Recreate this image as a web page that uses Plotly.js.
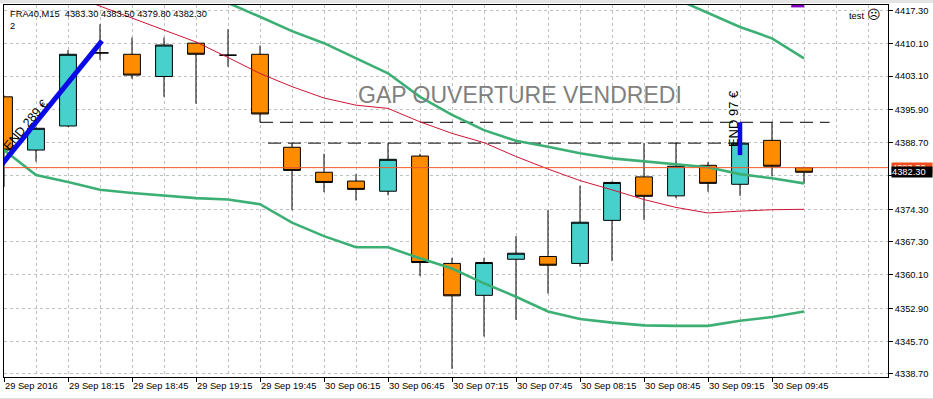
<!DOCTYPE html>
<html>
<head>
<meta charset="utf-8">
<script src="https://cdn.plot.ly/plotly-3.0.1.min.js"></script>
<style>html,body{margin:0;padding:0;background:#fff;}#chart{width:933px;height:399px;}</style>
</head>
<body>
<div id="chart"></div>
<script>
// ---- data ----
const symbol = "FRA40,M15";
const times = ["29 Sep 17:45","29 Sep 18:00","29 Sep 18:15","29 Sep 18:30","29 Sep 18:45","29 Sep 19:00","29 Sep 19:15","29 Sep 19:30","29 Sep 19:45",
  "30 Sep 06:00","30 Sep 06:15","30 Sep 06:30","30 Sep 06:45","30 Sep 07:00","30 Sep 07:15","30 Sep 07:30","30 Sep 07:45","30 Sep 08:00",
  "30 Sep 08:15","30 Sep 08:30","30 Sep 08:45","30 Sep 09:00","30 Sep 09:15","30 Sep 09:30","30 Sep 09:45","30 Sep 10:00"];
const open  = [4398.6,4387.1,4392.3,4408.1,4407.8,4403.0,4410.2,4407.6,4407.8,4387.7,4382.3,4380.4,4378.2,4385.8,4362.6,4355.7,4363.5,4364.1,4362.6,4371.9,4381.3,4377.2,4383.8,4379.7,4389.2,4383.3];
const high  = [4398.9,4392.0,4408.7,4414.3,4411.4,4411.4,4410.2,4413.2,4409.7,4388.6,4386.3,4381.9,4388.6,4386.3,4363.8,4363.8,4368.5,4374.1,4379.4,4380.3,4388.6,4388.7,4384.5,4389.0,4393.1,4383.5];
const low   = [4379.1,4384.6,4392.1,4406.6,4402.5,4398.6,4397.1,4405.1,4393.1,4374.1,4378.0,4376.2,4377.3,4359.9,4339.8,4346.8,4350.4,4356.1,4361.9,4363.1,4372.0,4376.7,4378.1,4377.2,4381.4,4379.8];
const close = [4387.1,4391.8,4407.8,4408.1,4403.3,4409.8,4407.8,4407.6,4394.9,4382.7,4380.1,4378.6,4385.1,4362.8,4355.6,4362.8,4364.8,4362.2,4371.5,4380.1,4377.1,4383.6,4379.9,4388.6,4383.6,4382.3];

const bandUpper  = [null,null,null,null,null,null,null,null,null,null,null,null,null,null,null,null,null,null,null,null,4422.8,4419.8,4416.7,4413.7,4411.25,4406.9];
const bandMiddle = [null,null,null,null,null,null,4421.3,4418.9,4415.9,4412.8,4410.2,4406.9,4403.7,4398.6,4394.7,4391.4,4389.1,4387.8,4386.4,4385.3,4384.7,4384.1,4383.4,4381.9,4381.0,4379.9];
const bandLower  = [4387.1,4381.7,4380.2,4378.5,4377.8,4377.2,4376.7,4376.4,4375.4,4371.4,4368.5,4366.1,4366.1,4363.7,4361.5,4358.3,4355.4,4352.2,4350.6,4349.8,4349.2,4349.1,4349.1,4350.2,4351.0,4352.2];
const maRed      = [null,null,4420.8,4418.2,4415.6,4413.05,4410.45,4407.1,4403.65,4400.8,4398.35,4396.8,4396.1,4393.2,4390.7,4388.7,4385.7,4383.0,4380.5,4378.5,4376.4,4374.7,4373.5,4373.9,4374.2,4374.3];

const levelLine = 4383.3;           // horizontal red-orange line / red price tag
const bidPrice  = 4382.3;           // black price tag
const dashHighX = [8, 25.8],  dashHighY = [4393.1, 4393.1];
const dashLowX  = [8.25, 23], dashLowY  = [4388.6, 4388.6];
const trendX = [-0.1, 3.06], trendY = [4383.7, 4410.7];
const trend2X = [23, 23],    trend2Y = [4386.0, 4393.1];
const purpleX = [24.6, 25.0], purpleY = [4418.2, 4418.2];

const yTickVals = [4417.3,4410.1,4403.1,4395.9,4388.7,4381.5,4374.3,4367.3,4360.1,4352.9,4345.7,4338.7];
const yTickText = ["4417.30","4410.10","4403.10","4395.90","4388.70","","4374.30","4367.30","4360.10","4352.90","4345.70","4338.70"];
const xTickIdx  = [0,2,4,6,8,10,12,14,16,18,20,22,24];
const xTickText = ["29 Sep 2016","29 Sep 18:15","29 Sep 18:45","29 Sep 19:15","29 Sep 19:45","30 Sep 06:15","30 Sep 06:45","30 Sep 07:15","30 Sep 07:45","30 Sep 08:15","30 Sep 08:45","30 Sep 09:15","30 Sep 09:45"];

// ---- chart ----
const idx = times.map((t, i) => i);
const FONT = "Liberation Sans, Arial, sans-serif";
const GREEN = "#3cb074";
const last = close.length - 1;

const traces = [
  {type:"scatter", mode:"lines", x:dashHighX, y:dashHighY, line:{color:"#000", width:1, dash:"13px,7px"}, hoverinfo:"skip"},
  {type:"scatter", mode:"lines", x:dashLowX,  y:dashLowY,  line:{color:"#000", width:1, dash:"13px,7px"}, hoverinfo:"skip"},
  {type:"candlestick", x:idx, open:open, high:high, low:low, close:close, text:times,
   increasing:{line:{color:"#000", width:1}, fillcolor:"#48d1cc"},
   decreasing:{line:{color:"#000", width:1}, fillcolor:"#ff8c00"},
   whiskerwidth:0, hoverinfo:"skip"},
  {type:"scatter", mode:"lines", x:idx, y:bandUpper,  line:{color:GREEN, width:2.6}, hoverinfo:"skip"},
  {type:"scatter", mode:"lines", x:idx, y:bandMiddle, line:{color:GREEN, width:2.6}, hoverinfo:"skip"},
  {type:"scatter", mode:"lines", x:idx, y:bandLower,  line:{color:GREEN, width:2.6}, hoverinfo:"skip"},
  {type:"scatter", mode:"lines", x:idx, y:maRed, line:{color:"#d01437", width:1}, hoverinfo:"skip"},
  {type:"scatter", mode:"lines", x:trendX, y:trendY, line:{color:"#0a0ae6", width:5}, hoverinfo:"skip"},
  {type:"scatter", mode:"lines", x:trend2X, y:trend2Y, line:{color:"#0a0ae6", width:4.5}, hoverinfo:"skip"},
  {type:"scatter", mode:"lines", x:purpleX, y:purpleY, line:{color:"#8000c0", width:2.5}, hoverinfo:"skip"}
];

const f = (s, c) => ({family:FONT, size:s, color:c || "#000"});

const layout = {
  width:933, height:399, autosize:false,
  margin:{l:4, r:45, t:5, b:22, pad:0},
  paper_bgcolor:"#fff", plot_bgcolor:"#fff",
  showlegend:false, boxgap:0.25, dragmode:false,
  font:f(9.3),
  xaxis:{
    type:"linear", range:[0, 27.625], fixedrange:true,
    rangeslider:{visible:false},
    tickmode:"array", tickvals:xTickIdx, ticktext:xTickText, tickangle:0,
    ticks:"outside", ticklen:4, tickcolor:"#000", tickwidth:1,
    ticklabelposition:"outside right",
    tickfont:f(9.3),
    showgrid:true, gridcolor:"#c0c0c0", griddash:"3px,3px", gridwidth:1,
    minor:{dtick:1, tick0:0, showgrid:true, gridcolor:"#c0c0c0", griddash:"3px,3px", gridwidth:1, ticks:""},
    showline:true, linecolor:"#000", linewidth:1, mirror:true, zeroline:false
  },
  yaxis:{
    side:"right", range:[4338.05, 4418.45], fixedrange:true,
    tickmode:"array", tickvals:yTickVals, ticktext:yTickText,
    ticks:"outside", ticklen:4, tickcolor:"#000", tickwidth:1,
    tickfont:f(9.3),
    showgrid:true, gridcolor:"#c0c0c0", griddash:"3px,3px", gridwidth:1,
    showline:true, linecolor:"#000", linewidth:1, mirror:true, zeroline:false
  },
  shapes:[
    {type:"line", xref:"paper", yref:"y", x0:0, x1:1, y0:levelLine, y1:levelLine, line:{color:"#f05a28", width:1}, layer:"above"},
    {type:"rect", xref:"paper", yref:"paper", x0:-0.006, x1:1.06, y0:1.0054, y1:1.02, fillcolor:"#e4e4e4", line:{width:0}, layer:"above"},
    {type:"rect", xref:"paper", yref:"paper", x0:-0.006, x1:1.06, y0:-0.0565, y1:-0.07, fillcolor:"#e0e0e0", line:{width:0}, layer:"above"}
  ],
  annotations:[
    {xref:"paper", yref:"paper", x:0.0045, y:0.9766, xanchor:"left", yanchor:"middle", showarrow:false,
     text: symbol + "\u00a0\u00a0" + [open[last], high[last], low[last], close[last]].map(v => v.toFixed(2)).join(" "), font:f(9.3)},
    {xref:"paper", yref:"paper", x:0.0045, y:0.9435, xanchor:"left", yanchor:"middle", showarrow:false, text:"2", font:f(9.3)},
    {xref:"paper", yref:"paper", x:0.9943, y:0.9739, xanchor:"right", yanchor:"middle", showarrow:false,
     text:'test <span style="font-size:13px">\u2639</span>', font:f(9.3)},
    {xref:"x", yref:"y", x:16.125, y:4399.0, xanchor:"center", yanchor:"middle", showarrow:false,
     text:"GAP OUVERTURE VENDREDI", font:f(23, "#808080")},
    {xref:"x", yref:"y", x:0.68, y:4392.6, showarrow:false, textangle:-50, text:"END 289 \u20ac", font:f(12.5)},
    {xref:"x", yref:"y", x:22.78, y:4394.0, showarrow:false, textangle:-90, text:"END 97 \u20ac", font:f(13)},
    {xref:"paper", yref:"y", x:1.0034, y:levelLine, xanchor:"left", yanchor:"middle", showarrow:false,
     text:levelLine.toFixed(2), font:f(9.3, "#fff"), bgcolor:"#f54e1e", width:40, height:10, borderpad:0, align:"left"},
    {xref:"paper", yref:"y", x:1.0034, y:bidPrice, xanchor:"left", yanchor:"middle", showarrow:false,
     text:bidPrice.toFixed(2), font:f(9.3, "#fff"), bgcolor:"#000", width:40, height:10, borderpad:0, align:"left"}
  ]
};

Plotly.newPlot("chart", traces, layout, {displayModeBar:false, staticPlot:true});
</script>
</body>
</html>
